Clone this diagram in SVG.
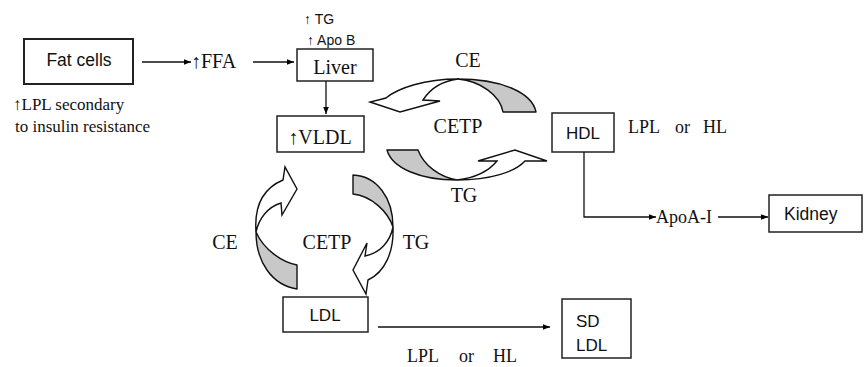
<svg xmlns="http://www.w3.org/2000/svg" width="865" height="367" viewBox="0 0 865 367">
<defs>
<marker id="ah" viewBox="0 0 10 10" refX="10" refY="5" markerWidth="7" markerHeight="7" markerUnits="userSpaceOnUse" orient="auto">
<path d="M0,1 L10,5 L0,9 Z" fill="#000"/>
</marker>
</defs>
<style>
.box{fill:#fff;stroke:#222;stroke-width:1.5}
.sans{font-family:"Liberation Sans",Arial,sans-serif;fill:#111}
.serif{font-family:"Liberation Serif","Times New Roman",serif;fill:#111}
.up{font-weight:bold}
.ln{fill:none;stroke:#111;stroke-width:1.3}
.gr{fill:#c8c8c8;stroke:#111;stroke-width:1.4;stroke-linejoin:round}
.wh{fill:#fff;stroke:#111;stroke-width:1.4;stroke-linejoin:miter}
</style>
<rect width="865" height="367" fill="#fff"/>

<g id="fat-cells">
<rect class="box" x="24" y="39" width="109" height="45" style="stroke-width:2"/>
<text class="sans" x="79" y="66" font-size="17.5" text-anchor="middle">Fat cells</text>
</g>
<g id="lpl-note">
<text class="serif" x="13" y="110" font-size="17"><tspan class="up">↑</tspan>LPL secondary</text>
<text class="serif" x="15" y="132" font-size="17">to insulin resistance</text>
</g>
<g id="ffa">
<text class="serif" x="191" y="68" font-size="20"><tspan class="up">↑</tspan>FFA</text>
</g>
<g id="liver">
<rect class="box" x="297" y="49" width="76" height="32"/>
<text class="serif" x="335" y="74" font-size="20" text-anchor="middle">Liver</text>
<text class="sans" x="304" y="24" font-size="14"><tspan class="up">↑</tspan> TG</text>
<text class="sans" x="307" y="45" font-size="14"><tspan class="up">↑</tspan> Apo B</text>
</g>
<g id="vldl">
<rect class="box" x="277" y="116" width="87" height="36"/>
<text class="serif" x="320" y="144" font-size="20" text-anchor="middle"><tspan class="up">↑</tspan>VLDL</text>
</g>
<g id="hdl">
<rect class="box" x="552" y="113" width="62" height="39"/>
<text class="sans" x="583" y="139" font-size="17" text-anchor="middle">HDL</text>
<text class="serif" x="628" y="133" font-size="18">LPL</text>
<text class="serif" x="675" y="133" font-size="18">or</text>
<text class="serif" x="703" y="133" font-size="18">HL</text>
</g>
<g id="apoa">
<text class="serif" x="656" y="223" font-size="18">ApoA-I</text>
</g>
<g id="kidney">
<rect class="box" x="769" y="195" width="93" height="37"/>
<text class="sans" x="784" y="220" font-size="17.5">Kidney</text>
</g>
<g id="ldl">
<rect class="box" x="283" y="297" width="85" height="35"/>
<text class="sans" x="325" y="321" font-size="17" text-anchor="middle">LDL</text>
</g>
<g id="sd-ldl">
<rect class="box" x="562" y="299" width="69" height="59"/>
<text class="sans" x="576" y="327" font-size="17">SD</text>
<text class="sans" x="576" y="351" font-size="17">LDL</text>
</g>
<g id="labels">
<text class="serif" x="468" y="67" font-size="20" text-anchor="middle">CE</text>
<text class="serif" x="458" y="133" font-size="20" text-anchor="middle">CETP</text>
<text class="serif" x="464" y="202" font-size="20" text-anchor="middle">TG</text>
<text class="serif" x="225" y="249" font-size="20" text-anchor="middle">CE</text>
<text class="serif" x="327" y="249" font-size="20" text-anchor="middle">CETP</text>
<text class="serif" x="416" y="249" font-size="20" text-anchor="middle">TG</text>
<text class="serif" x="407" y="362" font-size="18">LPL</text>
<text class="serif" x="459" y="362" font-size="18">or</text>
<text class="serif" x="493" y="362" font-size="18">HL</text>
</g>

<g id="connectors">
<line class="ln" x1="142" y1="62" x2="191" y2="62" marker-end="url(#ah)"/>
<line class="ln" x1="253" y1="62" x2="294" y2="62" marker-end="url(#ah)"/>
<line class="ln" x1="326" y1="81" x2="326" y2="114" marker-end="url(#ah)"/>
<polyline class="ln" points="584,152 584,217 656,217" marker-end="url(#ah)"/>
<line class="ln" x1="718" y1="217" x2="768" y2="217" marker-end="url(#ah)"/>
<line class="ln" x1="378" y1="327" x2="550" y2="327" marker-end="url(#ah)"/>

<path class="gr" d="M536,112 C532,92 500,79 458,79 C480,81 500,95 503,112 Z"/>
<path class="wh" d="M458,79 C425,79 398,88 386,98 L370,102 L400,112 L440,101 L423,100 C430,89 442,81 458,79 Z"/>

<path class="gr" d="M387,150 L418,150 C424,166 440,177 457,180 C420,180 392,168 387,150 Z"/>
<path class="wh" d="M457,180 C490,180 515,172 525,161 L547,161 L515,150 L478,161 L497,161 C488,172 474,178 457,180 Z"/>

<path class="gr" d="M256,232 C256,262 272,285 297,289 L297,265 C282,262 264,250 256,232 Z"/>
<path class="wh" d="M256,232 C254,205 264,188 283,180 L285,167 L297,189 L282,215 L281,203 C268,207 259,218 256,232 Z"/>

<path class="gr" d="M353,175 C377,176 393,198 393,227 C388,212 372,196 353,194 Z"/>
<path class="wh" d="M393,227 C394,252 385,272 368,280 L366,294 L353,270 L367,243 L365,256 C380,253 390,242 393,227 Z"/>
</g>
</svg>
